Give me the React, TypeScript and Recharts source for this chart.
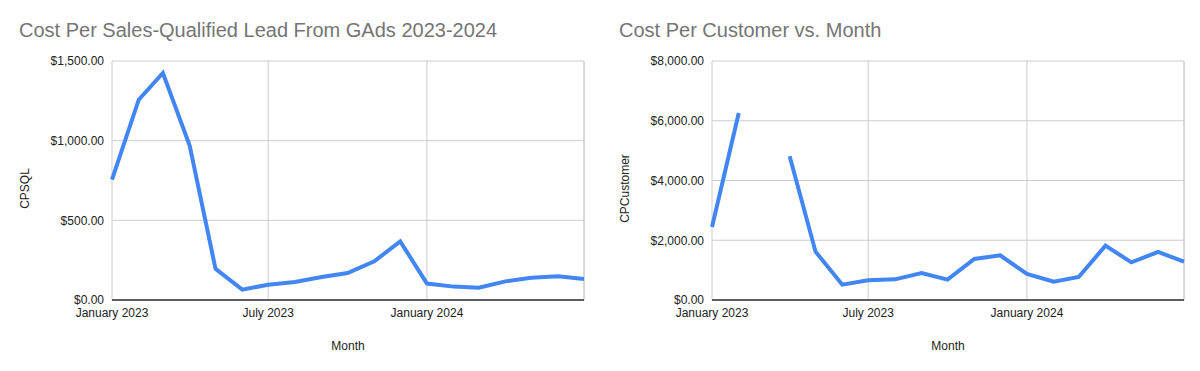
import { LineChart, Line, XAxis, YAxis, CartesianGrid, ReferenceLine } from "recharts";

const months = [
  "2023-01", "2023-02", "2023-03", "2023-04", "2023-05", "2023-06", "2023-07",
  "2023-08", "2023-09", "2023-10", "2023-11", "2023-12", "2024-01", "2024-02",
  "2024-03", "2024-04", "2024-05", "2024-06", "2024-07",
];
const cpsql = [755, 1257, 1425, 969, 195, 65, 96, 113, 144, 169, 243, 368, 103, 84, 77, 117, 140, 149, 132];
const cpCustomer = [2444, 6261, null, 4810, 1618, 513, 658, 692, 904, 681, 1373, 1496, 870, 614, 770, 1819, 1261, 1607, 1283];
const xTickMonths = ["2023-01", "2023-07", "2024-01"];
const cpsqlTicks = [0, 500, 1000, 1500];
const customerTicks = [0, 2000, 4000, 6000, 8000];

const monthNames = ["January", "February", "March", "April", "May", "June", "July", "August", "September", "October", "November", "December"];

const toTs = (m: string) => {
  const [y, mo] = m.split("-").map(Number);
  return Date.UTC(y, mo - 1, 1);
};
const fmtMonth = (ts: number) => {
  const d = new Date(ts);
  return monthNames[d.getUTCMonth()] + " " + d.getUTCFullYear();
};
const fmtMoney = (v: number) =>
  "$" + v.toLocaleString("en-US", { minimumFractionDigits: 2, maximumFractionDigits: 2 });

const xTicks = xTickMonths.map(toTs);
const xMin = toTs(months[0]);
const xMax = toTs(months[months.length - 1]);

const font = "Arial, 'Liberation Sans', sans-serif";
const tickStyle = { fontSize: 12, fill: "#222", fontFamily: font };

function Panel({ title, yLabel, values, ticks }: { title: string; yLabel: string; values: (number | null)[]; ticks: number[] }) {
  const data = months.map((m, i) => ({ ts: toTs(m), v: values[i] }));
  // y title sits a bit below the middle of the plot, like the sheets chart
  const yTitle = (props: any) => {
    const vb = props.viewBox || {};
    const x = vb.x + 5;
    const y = vb.y + vb.height / 2 + 8;
    return (
      <text x={x} y={y} transform={`rotate(-90 ${x} ${y})`} textAnchor="middle" dominantBaseline="middle" fontSize={12} fill="#222" fontFamily={font}>
        {yLabel}
      </text>
    );
  };
  return (
    <div style={{ position: "relative", width: 600, height: 371 }}>
      <div style={{ position: "absolute", left: 19, top: 19, fontFamily: font, fontSize: 20, color: "#757575", whiteSpace: "nowrap" }}>
        {title}
      </div>
      <LineChart width={600} height={371} data={data} margin={{ top: 61, right: 16, left: 21, bottom: 0 }}>
        <CartesianGrid stroke="#cccccc" strokeWidth={1} />
        <XAxis
          dataKey="ts"
          type="number"
          domain={[xMin, xMax]}
          ticks={xTicks}
          tickFormatter={fmtMonth}
          tick={tickStyle}
          tickLine={false}
          axisLine={{ stroke: "#333", strokeWidth: 1 }}
          height={71}
          label={{ value: "Month", position: "insideBottom", offset: 21, style: { fontSize: 12, fill: "#222", fontFamily: font } }}
        />
        <YAxis
          width={91}
          domain={[ticks[0], ticks[ticks.length - 1]]}
          ticks={ticks}
          tickFormatter={fmtMoney}
          tick={tickStyle}
          tickLine={false}
          axisLine={false}
          label={{ content: yTitle }}
        />
        <ReferenceLine x={xMax} stroke="#cccccc" />
        <ReferenceLine y={0} stroke="#333" />
        <Line type="linear" dataKey="v" stroke="#4285F4" strokeWidth={4} dot={false} connectNulls={false} isAnimationActive={false} />
      </LineChart>
    </div>
  );
}

export default function App() {
  return (
    <div style={{ position: "absolute", left: 0, top: 0, width: 1200, height: 371, display: "flex", background: "#fff" }}>
      <Panel title="Cost Per Sales-Qualified Lead From GAds 2023-2024" yLabel="CPSQL" values={cpsql} ticks={cpsqlTicks} />
      <Panel title="Cost Per Customer vs. Month" yLabel="CPCustomer" values={cpCustomer} ticks={customerTicks} />
    </div>
  );
}
